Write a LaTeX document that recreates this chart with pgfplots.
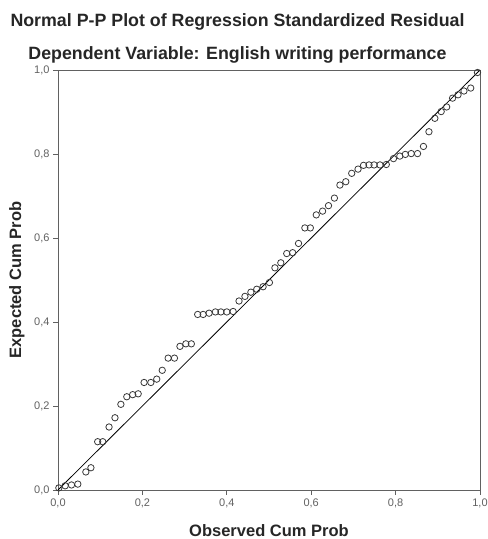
\documentclass[border=0pt]{standalone}
\usepackage{pgfplots}
\pgfplotsset{compat=1.18}
\usepackage{fontspec}
\setmainfont{Liberation Sans}
\definecolor{framegray}{gray}{0.38}
\definecolor{tickgray}{gray}{0.38}
\definecolor{markgray}{gray}{0.22}
\begin{document}
\begin{tikzpicture}[x=1pt,y=1pt]
\path[use as bounding box] (0,0) rectangle (488,539);
\node[anchor=base, font=\fontsize{17.8}{20}\selectfont\bfseries, text=black!85] at (237.5,512) {Normal P-P Plot of Regression Standardized Residual};
\node[anchor=base, font=\fontsize{17.8}{20}\selectfont\bfseries, text=black!85] at (237.5,479) {Dependent Variable: English writing performance};
\begin{axis}[
  at={(58pt,49pt)}, anchor=south west,
  scale only axis, width=422pt, height=420pt,
  xmin=0, xmax=1, ymin=0, ymax=1,
  xtick={0,0.2,0.4,0.6,0.8,1},
  ytick={0,0.2,0.4,0.6,0.8,1},
  tick pos=left, tick align=outside,
  major tick length=5pt,
  axis line style={framegray, line width=0.9pt},
  every tick/.style={framegray, line width=0.9pt},
  /pgf/number format/assume math mode=true,
  /pgf/number format/.cd, use comma, fixed, fixed zerofill, precision=1,
  /pgfplots/.cd,
  tick label style={font=\fontsize{11}{12}\selectfont, text=tickgray},
  xlabel={Observed Cum Prob},
  ylabel={Expected Cum Prob},
  label style={font=\fontsize{16.5}{18}\selectfont\bfseries, text=black!85},
  xlabel style={at={(0.5,0)}, anchor=base, yshift=-46pt, xshift=0pt},
  ylabel style={at={(0,0.5)}, anchor=south, yshift=30pt},
  clip=false,
]
\addplot[black, line width=0.8pt] coordinates {(0,0) (1,1)};
\addplot[only marks, mark=o, mark size=3.2pt, mark options={draw=markgray, line width=0.8pt}] coordinates {
(0.002,0.005) (0.017,0.010) (0.032,0.012) (0.047,0.014) (0.066,0.043)
(0.078,0.053) (0.094,0.115) (0.106,0.115) (0.121,0.150) (0.135,0.172)
(0.149,0.204) (0.163,0.222) (0.177,0.227) (0.190,0.229) (0.204,0.256)
(0.220,0.256) (0.234,0.264) (0.247,0.285) (0.261,0.314) (0.276,0.314)
(0.289,0.342) (0.303,0.348) (0.316,0.348) (0.331,0.418) (0.344,0.418)
(0.358,0.421) (0.373,0.424) (0.386,0.424) (0.400,0.424) (0.415,0.425)
(0.429,0.450) (0.443,0.461) (0.457,0.471) (0.471,0.478) (0.486,0.484)
(0.501,0.494) (0.514,0.529) (0.528,0.541) (0.542,0.563) (0.556,0.565)
(0.570,0.587) (0.585,0.624) (0.598,0.624) (0.612,0.655) (0.627,0.664)
(0.641,0.677) (0.655,0.695) (0.668,0.726) (0.682,0.734) (0.696,0.754)
(0.711,0.764) (0.724,0.773) (0.737,0.774) (0.749,0.774) (0.763,0.774)
(0.778,0.775) (0.795,0.789) (0.810,0.795) (0.823,0.799) (0.837,0.801)
(0.852,0.801) (0.866,0.818) (0.879,0.853) (0.893,0.885) (0.908,0.901)
(0.921,0.912) (0.935,0.933) (0.948,0.941) (0.962,0.950) (0.978,0.957)
(0.994,0.994)
};
\end{axis}
\end{tikzpicture}
\end{document}
